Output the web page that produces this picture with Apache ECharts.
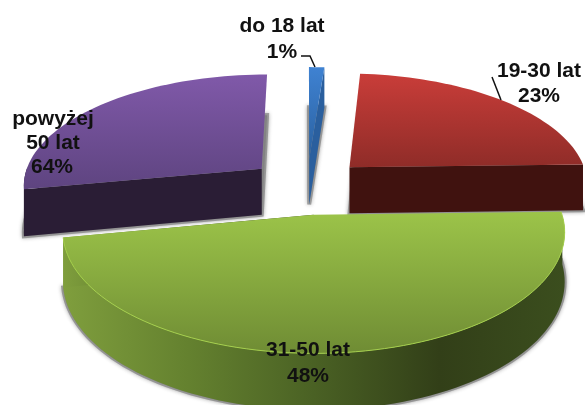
<!DOCTYPE html>
<html>
<head>
<meta charset="utf-8">
<style>
  html, body { margin: 0; padding: 0; background: #fff; }
  #main { width: 585px; height: 405px; }
</style>
<script src="https://cdn.jsdelivr.net/npm/echarts@6/dist/echarts.min.js"></script>
</head>
<body>
<div id="main"></div>
<script>
const categories = ['do 18 lat', '19-30 lat', '31-50 lat', 'powyżej 50 lat'];
// slice sizes as drawn; the printed percent is a separate thing (the purple slice says 64%)
const shares = [1.2, 23.4, 47.4, 28];
const printedPercent = ['1%', '23%', '48%', '64%'];

const topColors = [['#3F82D2', '#2A609E'], ['#C93D39', '#8F2C28'], ['#9CC449', '#6F8C34'], ['#8059A9', '#5E4480']];
const sideColors = ['#2A5F9E', '#40120F', null, '#2A1D35'];
const drawOrder = [3, 4, 5, 2]; // green goes on top of the others

// pie geometry in the picture
const cx = 307, cy = 186, R = 240, squash = 111.3, persp = 0.136, depth = 47, explode = 0.25;

const total = shares.reduce((a, b) => a + b, 0);

function project(u, v, lift) {
  const w = 1 / (1 - persp * v);
  return [cx + R * u * w, cy + squash * v * w + depth * w * lift];
}

function arcPoints(a0, a1, ou, ov, lift) {
  const n = Math.max(2, Math.ceil((a1 - a0) / (Math.PI / 90)));
  const pts = [];
  for (let i = 0; i <= n; i++) {
    const a = a0 + (a1 - a0) * i / n;
    pts.push(project(ou + Math.sin(a), ov - Math.cos(a), lift));
  }
  return pts;
}

function renderSlice(params, api) {
  const i = params.dataIndex;
  const before = shares.slice(0, i).reduce((a, b) => a + b, 0);
  const a0 = before / total * Math.PI * 2;
  const a1 = (before + api.value(1)) / total * Math.PI * 2;
  const mid = (a0 + a1) / 2;
  const ou = explode * Math.sin(mid), ov = -explode * Math.cos(mid);

  const apexTop = project(ou, ov, 0), apexBot = project(ou, ov, 1);
  const arcTop = arcPoints(a0, a1, ou, ov, 0), arcBot = arcPoints(a0, a1, ou, ov, 1);
  const z2 = drawOrder[i];

  let sideFill = sideColors[i];
  if (!sideFill) {
    sideFill = new echarts.graphic.LinearGradient(0, 0, 1, 0, [
      { offset: 0, color: '#7F9E3D' },
      { offset: 0.25, color: '#64812F' },
      { offset: 0.5, color: '#4A6124' },
      { offset: 0.75, color: '#323F18' },
      { offset: 1, color: '#3B4E1E' }
    ]);
  }
  const children = [];
  // soft shadow under the bottom face
  children.push({
    type: 'polygon', z2: z2,
    shape: { points: [apexBot].concat(arcBot) },
    style: {
      fill: '#9a9a9a', stroke: 'rgba(130,130,130,0.7)', lineWidth: 4,
      shadowBlur: 4, shadowColor: 'rgba(0,0,0,0.35)'
    }
  });
  // outer wall, front half of the rim only
  const frontTop = [], frontBot = [];
  arcTop.forEach((p, k) => {
    const a = a0 + (a1 - a0) * k / (arcTop.length - 1);
    if (Math.cos(a) < 0.02) {
      frontTop.push(p);
      frontBot.push(arcBot[k]);
    }
  });
  if (frontTop.length > 1) {
    children.push({
      type: 'polygon', z2: z2,
      shape: { points: frontTop.concat(frontBot.reverse()) },
      style: { fill: sideFill }
    });
  }
  // cut faces: clockwise start edge shows on the right hand pieces, end edge on the left ones
  const last = arcTop.length - 1;
  if (mid < Math.PI) {
    children.push({
      type: 'polygon', z2: z2,
      shape: { points: [apexTop, arcTop[last], arcBot[last], apexBot] },
      style: { fill: sideFill }
    });
  } else {
    children.push({
      type: 'polygon', z2: z2,
      shape: { points: [apexTop, arcTop[0], arcBot[0], apexBot] },
      style: { fill: sideFill }
    });
  }
  // top face
  children.push({
    type: 'polygon', z2: z2,
    shape: { points: [apexTop].concat(arcTop) },
    style: {
      fill: new echarts.graphic.LinearGradient(0, 0, 0, 1, [
        { offset: 0, color: topColors[i][0] },
        { offset: 1, color: topColors[i][1] }
      ])
    }
  });
  if (i === 2) {
    children.push({
      type: 'polyline', z2: z2,
      shape: { points: arcTop },
      style: { fill: null, stroke: '#A5D04C', lineWidth: 1 }
    });
  }
  return { type: 'group', children: children };
}

function textEl(text, x, y) {
  return {
    type: 'text', x: x, y: y, z: 20,
    style: {
      text: text, fill: '#111', textAlign: 'center', textVerticalAlign: 'middle',
      font: 'bold 21px "Liberation Sans", Arial, sans-serif'
    }
  };
}

function lineEl(points) {
  return {
    type: 'polyline', z: 20,
    shape: { points: points },
    style: { fill: null, stroke: '#111', lineWidth: 1.5 }
  };
}

const myChart = echarts.init(document.getElementById('main'), null, { renderer: 'canvas' });
myChart.setOption({
  animation: false,
  backgroundColor: '#fff',
  series: [{
    type: 'custom',
    coordinateSystem: 'none',
    clip: false,
    silent: true,
    renderItem: renderSlice,
    data: categories.map((c, i) => [c, shares[i]])
  }],
  graphic: { elements: [
    textEl(categories[0], 282, 26),
    textEl(printedPercent[0], 282, 52),
    textEl(categories[1], 539, 71),
    textEl(printedPercent[1], 539, 96),
    textEl('powyżej', 53, 119),
    textEl('50 lat', 53, 143),
    textEl(printedPercent[3], 52, 167),
    textEl(categories[2], 308, 350),
    textEl(printedPercent[2], 308, 376),
    lineEl([[301, 56], [310, 56], [315, 67]]),
    lineEl([[492, 77], [501, 100]])
  ] }
});
</script>
</body>
</html>
